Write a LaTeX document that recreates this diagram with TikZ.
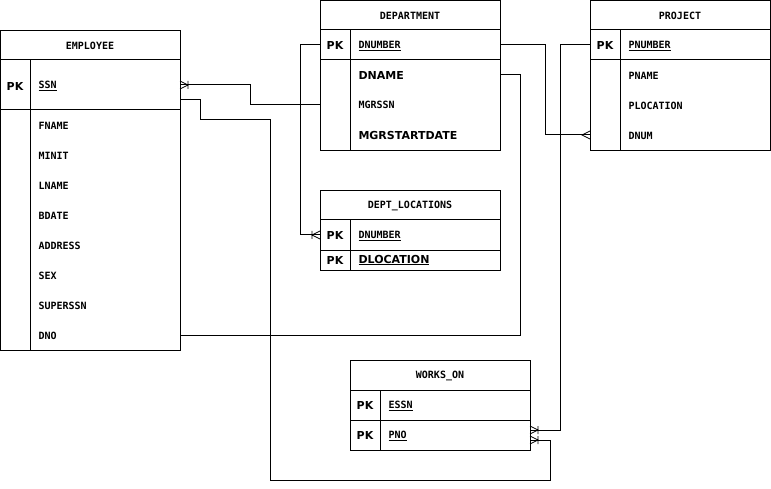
\documentclass[tikz,border=0pt]{standalone}
\usepackage{fontspec}
\usetikzlibrary{calc}
\newfontfamily\monof{DejaVu Sans Mono}
\newfontfamily\sansf{DejaVu Sans}
\begin{document}
\begin{tikzpicture}[x=1pt,y=-1pt,line width=1pt,
  box/.style={draw,rectangle,inner sep=0pt,anchor=north west},
  hd/.style={font=\monof\bfseries\fontsize{10}{11}\selectfont},
  fld/.style={anchor=west,font=\monof\bfseries\fontsize{10}{11}\selectfont,inner sep=0pt},
  big/.style={anchor=west,font=\sansf\bfseries\fontsize{11}{12}\selectfont,inner sep=0pt},
  pk/.style={anchor=center,font=\sansf\bfseries\fontsize{11}{12}\selectfont,inner sep=0pt},
  mk/.style={line width=0.8pt}]
\useasboundingbox (0,0) rectangle (771,489);
\fill[white] (0,0) rectangle (771,489);
% EMPLOYEE
\node[box,minimum width=180pt,minimum height=320pt] (emp) at (0,30) {};
\draw (0,60) -- (180,60) (0,110) -- (180,110) (30,60) -- (30,350);
\node[hd] (empt) at (90,46) {EMPLOYEE};
\node[pk] (emppk) at (15,86) {PK};
\node[fld] (ssn) at (38,86) {\underline{SSN}};
\foreach \t/\y [count=\i] in {FNAME/126,MINIT/156,LNAME/186,BDATE/216,ADDRESS/246,SEX/276,SUPERSSN/306,DNO/336}
  \node[fld] (e\i) at (38,\y) {\t};
% DEPARTMENT
\node[box,minimum width=180pt,minimum height=150pt] (dep) at (320,0) {};
\draw (320,30) -- (500,30) (320,60) -- (500,60) (350,30) -- (350,150);
\node[hd] (dept) at (410,16) {DEPARTMENT};
\node[pk] (deppk) at (335,45) {PK};
\node[fld] (dnum) at (358,46) {\underline{DNUMBER}};
\node[big] (dname) at (358,75) {DNAME};
\node[fld] (mgr) at (358,105) {MGRSSN};
\node[big] (mgrs) at (358,135) {MGRSTARTDATE};
% PROJECT
\node[box,minimum width=180pt,minimum height=150pt] (prj) at (590,0) {};
\draw (590,30) -- (770,30) (590,60) -- (770,60) (620,30) -- (620,150);
\node[hd] (prjt) at (680,16) {PROJECT};
\node[pk] (prjpk) at (605,45) {PK};
\node[fld] (pnum) at (628,46) {\underline{PNUMBER}};
\node[fld] (pname) at (628,76) {PNAME};
\node[fld] (ploc) at (628,106) {PLOCATION};
\node[fld] (dnumf) at (628,136) {DNUM};
% DEPT_LOCATIONS
\node[box,minimum width=180pt,minimum height=80pt] (dl) at (320,190) {};
\draw (320,220) -- (500,220) (320,250) -- (500,250) (350,220) -- (350,270);
\node[hd] (dlt) at (410,206) {DEPT\_LOCATIONS};
\node[pk] (dlpk1) at (335,235) {PK};
\node[fld] (dldn) at (358,236) {\underline{DNUMBER}};
\node[pk] (dlpk2) at (335,260) {PK};
\node[big] (dlloc) at (358,260) {\underline{DLOCATION}};
% WORKS_ON
\node[box,minimum width=180pt,minimum height=90pt] (wo) at (350,360) {};
\draw (350,390) -- (530,390) (350,420) -- (530,420) (380,390) -- (380,450);
\node[hd] (wot) at (440,376) {WORKS\_ON};
\node[pk] (wopk1) at (365,405) {PK};
\node[fld] (essn) at (388,406) {\underline{ESSN}};
\node[pk] (wopk2) at (365,435) {PK};
\node[fld] (pno) at (388,436) {\underline{PNO}};
% connector end points
\coordinate (c1a) at (320,105); \coordinate (c1b) at (180,85);
\coordinate (c2a) at (180,100); \coordinate (c2b) at (530,440);
\coordinate (c3a) at (320,45); \coordinate (c3b) at (320,235);
\coordinate (c4a) at (500,45); \coordinate (c4b) at (590,135);
\coordinate (c5a) at (500,75); \coordinate (c5b) at (180,335);
\coordinate (c6a) at (590,45); \coordinate (c6b) at (530,430);
\draw (c1a) -- (250,105) -- (250,85) -- (c1b);
\draw (c2a) -- (200,100) -- (200,120) -- (270,120) -- (270,480) -- (550,480) -- (550,440) -- (c2b);
\draw (c3a) -- (300,45) -- (300,235) -- (c3b);
\draw (c4a) -- (545,45) -- (545,135) -- (c4b);
\draw (c5a) -- (520,75) -- (520,335) -- (c5b);
\draw (c6a) -- (560,45) -- (560,430) -- (c6b);
% markers
\draw[mk] ($(c1b)+(0,-4)$) -- ($(c1b)+(8,0)$) -- ($(c1b)+(0,4)$) ($(c1b)+(8,-4)$) -- ($(c1b)+(8,4)$);
\draw[mk] ($(c3b)+(0,-4)$) -- ($(c3b)+(-8,0)$) -- ($(c3b)+(0,4)$) ($(c3b)+(-8,-4)$) -- ($(c3b)+(-8,4)$);
\draw[mk] ($(c4b)+(0,-4)$) -- ($(c4b)+(-8,0)$) -- ($(c4b)+(0,4)$);
\draw[mk] ($(c2b)+(0,-4)$) -- ($(c2b)+(8,0)$) -- ($(c2b)+(0,4)$) ($(c2b)+(8,-4)$) -- ($(c2b)+(8,4)$);
\draw[mk] ($(c6b)+(0,-4)$) -- ($(c6b)+(8,0)$) -- ($(c6b)+(0,4)$) ($(c6b)+(8,-4)$) -- ($(c6b)+(8,4)$);
\end{tikzpicture}
\end{document}
